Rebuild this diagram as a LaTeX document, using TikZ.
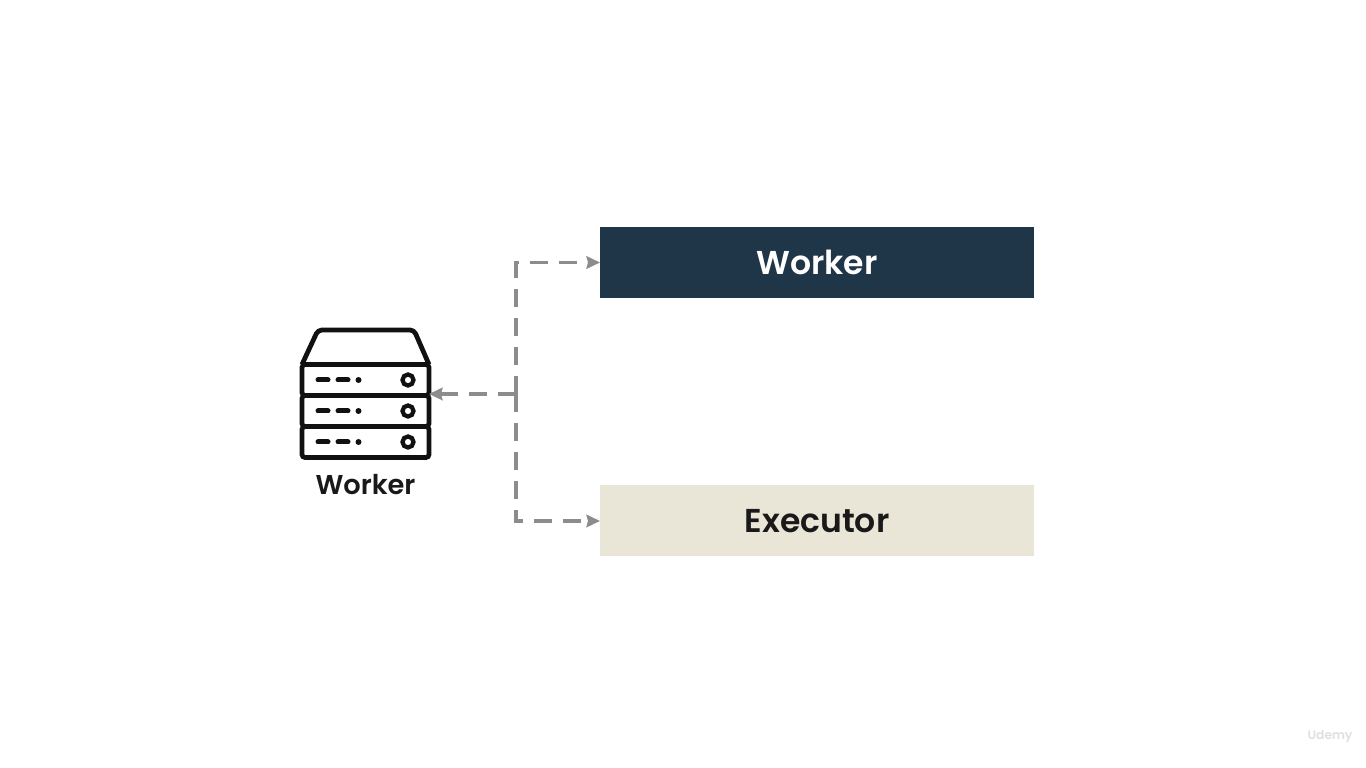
\documentclass[tikz,border=0pt]{standalone}
\usepackage{fontspec}
\setmainfont{Poppins}[UprightFont=* SemiBold]
\usetikzlibrary{arrows.meta,positioning}
\definecolor{workerblue}{HTML}{1F3548}
\definecolor{executorbeige}{HTML}{E9E5D7}
\definecolor{dashgray}{HTML}{8C8C8C}
\definecolor{iconblack}{HTML}{111111}
\tikzset{
    bigbox/.style={minimum width=8.68cm,minimum height=1.42cm,inner sep=0pt,outer sep=0pt,font=\fontsize{18.8}{24}\selectfont},
    serverrow/.style={draw=iconblack,line width=0.095cm,rounded corners=0.06cm,minimum width=2.54cm,minimum height=0.62cm,inner sep=0pt,outer sep=0pt},
    dashline/.style={draw=dashgray,line width=0.07cm,dash pattern=on 0.36cm off 0.22cm,-{Stealth[length=0.27cm,width=0.25cm,inset=0.03cm]}}
}
\begin{document}
\begin{tikzpicture}
        \useasboundingbox[fill=white] (0,0) rectangle (27.32,15.36);
        % boxes on the right
        \node[bigbox,fill=workerblue,text=white] (workerbox) at (16.34,10.11) {Worker};
        \node[bigbox,fill=executorbeige,text=black!90] (executorbox) at (16.34,4.94) {Executor};
        % server icon
        \foreach \name/\y in {rowa/7.76,rowb/7.14,rowc/6.52} {
            \node[serverrow] (\name) at (7.31,\y) {};
            \draw[iconblack,line width=0.1cm,line cap=round] (6.36,\y) -- (6.56,\y);
            \draw[iconblack,line width=0.1cm,line cap=round] (6.76,\y) -- (6.96,\y);
            \fill[iconblack] (7.17,\y) circle (0.06);
            \draw[iconblack,line width=0.085cm] (8.16,\y) circle (0.11);
        }
        \draw[iconblack,line width=0.095cm,line join=round,rounded corners=0.08cm] (rowa.north west) -- (6.36,8.76) -- (8.28,8.76) -- (rowa.north east);
        \node[inner sep=0pt,text=black!90,font=\fontsize{15.5}{20}\selectfont] (serverlabel) at (7.31,5.66) {Worker};
        % connectors
        \coordinate (junction) at (10.32,7.48);
        \draw[dashline] (junction) |- (workerbox.west);
        \draw[dashline] (junction) |- (executorbox.west);
        \draw[dashline] (junction) -- (junction -| rowb.east);
        % watermark
        \node[inner sep=0pt,text=black!12,font=\fontsize{7}{8}\selectfont] (watermark) at (26.6,0.62) {Udemy};
    \end{tikzpicture}
\end{document}
